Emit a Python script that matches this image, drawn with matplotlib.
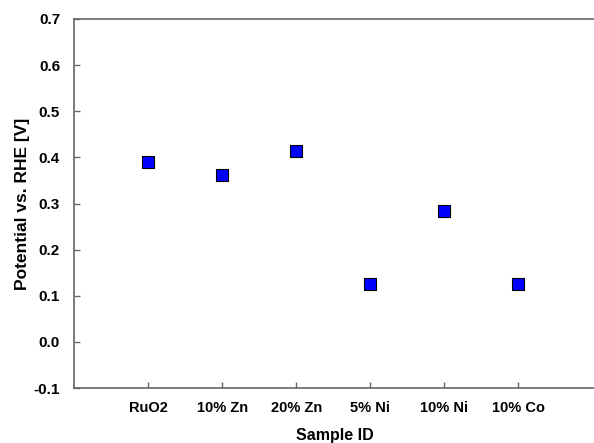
import matplotlib
matplotlib.use("Agg")
import matplotlib.pyplot as plt

samples = ["RuO2", "10% Zn", "20% Zn", "5% Ni", "10% Ni", "10% Co"]
potential = [0.390, 0.362, 0.414, 0.125, 0.284, 0.125]

plt.rcParams['font.family'] = ['Liberation Sans', 'DejaVu Sans']
plt.rcParams['font.weight'] = 'bold'

fig = plt.figure(figsize=(5.94, 4.43), dpi=100)
W, H = 594, 443
ax = fig.add_axes([74 / W, 1 - 388 / H, (W - 74 + 2) / W, (388 - 19) / H])
x = list(range(1, len(samples) + 1))
ax.scatter(x, potential, marker='s', s=72, color='#0000ff', edgecolors='black', linewidths=0.8, zorder=3)
ax.set_xlim(0, 7.05)
ax.set_ylim(-0.1, 0.7)
ax.set_xticks(x)
ax.set_xticklabels(samples, fontsize=10.5, fontweight='bold')
ax.set_yticks([-0.1, 0.0, 0.1, 0.2, 0.3, 0.4, 0.5, 0.6, 0.7])
ax.set_yticklabels(["-0.1", "0.0", "0.1", "0.2", "0.3", "0.4", "0.5", "0.6", "0.7"], fontsize=11, fontweight='bold')
ax.tick_params(direction='in', length=4, color='#666666', width=1)
ax.tick_params(axis='x', pad=9)
ax.tick_params(axis='y', pad=10)
for s in ['left', 'bottom', 'top']:
    ax.spines[s].set_color('#666666')
    ax.spines[s].set_linewidth(1.2)
ax.spines['right'].set_visible(False)
ax.set_xlabel("Sample ID", fontsize=11.5, fontweight='bold', labelpad=10)
ax.set_ylabel("Potential vs. RHE [V]", fontsize=12.5, fontweight='bold', labelpad=3)
fig.savefig("out.png", dpi=100)
